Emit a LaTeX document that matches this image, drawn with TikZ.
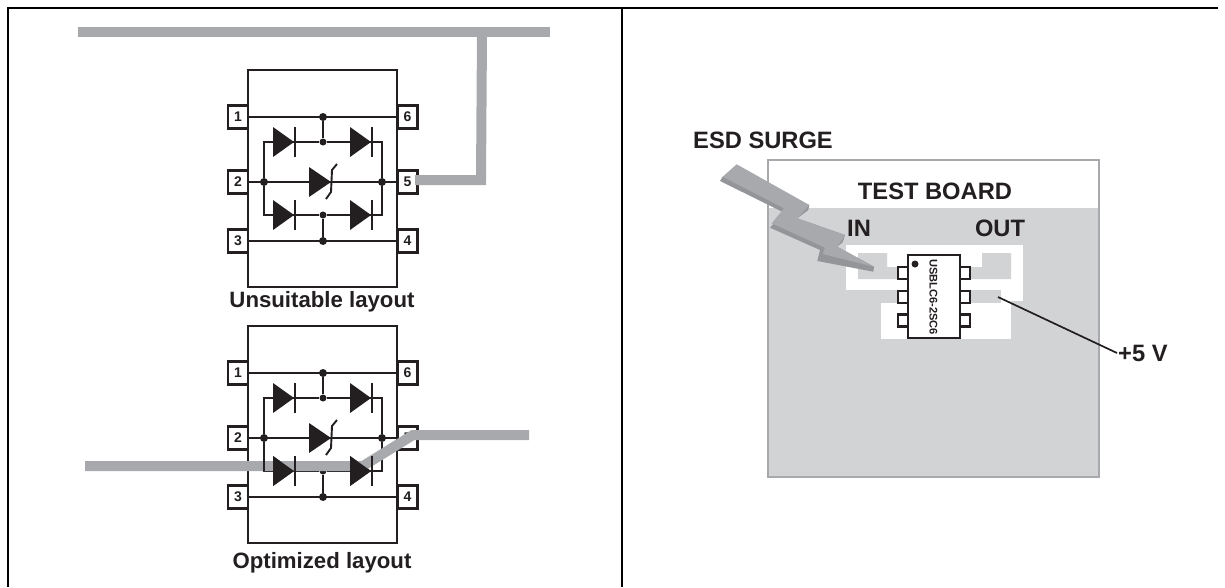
\documentclass[tikz,border=0pt]{standalone}
\usepackage{fontspec}
\setmainfont{Liberation Sans}
\usetikzlibrary{positioning, calc}

\definecolor{tracegray}{HTML}{A7A9AC}
\definecolor{boardgray}{HTML}{D1D3D4}
\definecolor{shadegray}{HTML}{939598}
\definecolor{inkblack}{HTML}{231F20}

\tikzset{
  wire/.style={draw=inkblack, line width=1.9pt},
  pinbox/.style={draw=inkblack, fill=white, line width=2.2pt, minimum width=20pt, minimum height=23pt, inner sep=0pt, font=\fontsize{14}{14}\selectfont\bfseries, text=inkblack},
  junction/.style={circle, fill=inkblack, minimum size=8pt, inner sep=0pt},
  caption/.style={font=\fontsize{22.2}{24}\selectfont\bfseries, text=inkblack},
  bigtext/.style={font=\fontsize{23.7}{26}\selectfont\bfseries, text=inkblack},
  trace/.style={draw=tracegray, line width=10pt, miter limit=10},
  smallpin/.style={draw=inkblack, fill=white, line width=2.2pt, minimum width=10pt, minimum height=12pt, inner sep=0pt},
}

% diode: x of the base, y of the axis
\newcommand{\diode}[2]{
  \fill[inkblack] (#1,#2-15) -- (#1+21,#2) -- (#1,#2+15) -- cycle;
  \draw[wire] (#1+22,#2-15) -- (#1+22,#2+15);
}

% protection chip, #1 prefix of the names, #2 vertical shift
\newcommand{\protchip}[2]{
  \node[draw=inkblack, fill=white, line width=1.9pt, minimum width=149pt, minimum height=217pt, inner sep=0pt] (#1body) at (322.5,178.5+#2) {};
  \node[pinbox] (#11) at (238,117+#2) {1};
  \node[pinbox] (#12) at (238,182+#2) {2};
  \node[pinbox] (#13) at (238,241+#2) {3};
  \node[pinbox] (#16) at (407.5,117+#2) {6};
  \node[pinbox] (#15) at (407.5,182+#2) {5};
  \node[pinbox] (#14) at (407.5,241+#2) {4};
  \node[junction] (#1ja) at (323,117+#2) {};
  \node[junction, minimum size=7pt] (#1jb) at (323,142+#2) {};
  \node[junction] (#1jl) at (264,182+#2) {};
  \node[junction] (#1jr) at (382,182+#2) {};
  \node[junction, minimum size=7pt] (#1jc) at (323,215+#2) {};
  \node[junction] (#1jd) at (323,241+#2) {};
  \draw[wire] (#11.east) -- (#16.west);
  \draw[wire] (#12.east) -- (#15.west);
  \draw[wire] (#13.east) -- (#14.west);
  \draw[wire] (#1ja) -- (#1jb);
  \draw[wire] (#1jc) -- (#1jd);
  \draw[wire] (#1jl) |- (#1jb) -| (#1jr);
  \draw[wire] (#1jl) |- (#1jc) -| (#1jr);
  \diode{273}{142+#2}
  \diode{350}{142+#2}
  \diode{273}{215+#2}
  \diode{350}{215+#2}
  \fill[inkblack] (309,167+#2) -- (331,182+#2) -- (309,197+#2) -- cycle;
  \draw[wire] (337,164+#2) -- (332,170+#2) -- (331,192+#2) -- (326,199+#2);
}

\begin{document}
\begin{tikzpicture}[x=1pt, y=-1pt]
  \useasboundingbox (0,0) rectangle (1225,587);

  % left half
  \protchip{up}{0}
  \protchip{lo}{256}

  \coordinate (busa) at (78,32);
  \coordinate (busb) at (550,32);
  \coordinate (busdrop) at (482,32);
  \coordinate (buscorner) at (481,180);
  \coordinate (buspin) at (415,180);
  \draw[trace] (busa) -- (busb);
  \draw[trace] (busdrop) -- (buscorner) -- (buspin);

  \coordinate (linein) at (85,466);
  \coordinate (linebend) at (363,466);
  \coordinate (linetop) at (413,435);
  \coordinate (lineout) at (529,435);
  \draw[trace] (linein) -- (linebend) -- (linetop) -- (lineout);
  \draw[wire] (lojl) -- (264,471);
  \diode{273}{471}
  \diode{350}{471}

  \node[caption] (capup) at (322,302) {Unsuitable layout};
  \node[caption] (caplo) at (322,563) {Optimized layout};

  % right half
  \draw[draw=tracegray, fill=white, line width=2pt] (768,160) rectangle (1099,477);
  \fill[boardgray] (769,208) rectangle (1098,476);
  \fill[white] (846,245) rectangle (1023,290);
  \fill[white] (1001,290) rectangle (1023,301);
  \fill[white] (881,303) rectangle (1011,339);
  \fill[white] (1001,300) rectangle (1011,304);
  \fill[boardgray] (858,253) -- (887,253) -- (887,267) -- (905,267) -- (905,279) -- (858,279) -- cycle;
  \fill[boardgray] (982,253) -- (1011,253) -- (1011,279) -- (965,279) -- (965,267) -- (982,267) -- cycle;
  \fill[boardgray] (965,290) rectangle (1001,303);

  \fill[shadegray] (722.7,176.7) -- (720,181) -- (783.3,212.3) -- (770,227.7) -- (820,250) -- (817.3,261) -- (873.3,271.7) -- (874,266.7) -- (837.3,246.7) -- (842.7,242.3) -- (845,235) -- (797.3,218.3) -- (808.3,210) -- (809.3,205) -- cycle;
  \fill[tracegray] (736.7,164.3) -- (809.3,205) -- (797.3,218.3) -- (845,235) -- (837.3,246.7) -- (874,266.7) -- (822.7,254) -- (825,247.7) -- (771.7,223.3) -- (784,208.3) -- (722.7,176.7) -- cycle;

  \node[smallpin] (inpa) at (903,273) {};
  \node[smallpin] (inpb) at (903,297) {};
  \node[smallpin] (inpc) at (903,320.5) {};
  \node[smallpin] (outa) at (965,273) {};
  \node[smallpin] (outb) at (965,297) {};
  \node[smallpin] (outc) at (965,320.5) {};
  \node[draw=inkblack, fill=white, line width=2.2pt, minimum width=52pt, minimum height=83pt, inner sep=0pt] (ic) at (934,296.5) {};
  \node[circle, fill=inkblack, minimum size=7pt, inner sep=0pt] (icdot) at (915,264) {};
  \node[rotate=-90, font=\fontsize{11.1}{12}\selectfont\bfseries, text=inkblack] (icname) at (933.5,297) {USBLC6-2SC6};

  \node[bigtext] (esd) at (763,140) {ESD SURGE};
  \node[bigtext] (board) at (935,191) {TEST BOARD};
  \node[bigtext] (in) at (859,228) {IN};
  \node[bigtext] (out) at (1000,228) {OUT};
  \node[bigtext, anchor=west, inner sep=1pt] (vplus) at (1117,353) {+5 V};
  \coordinate (vtrace) at (998,297);
  \draw[inkblack, line width=1.7pt] (vtrace) -- (vplus.west);

  % frame
  \coordinate (fra) at (8,587);
  \coordinate (frb) at (8,8);
  \coordinate (frc) at (1218,8);
  \coordinate (frm) at (622,8);
  \coordinate (frn) at (622,587);
  \draw[black, line width=2pt] (fra) -- (frb) -- (frc);
  \draw[black, line width=2pt] (frm) -- (frn);
\end{tikzpicture}
\end{document}
